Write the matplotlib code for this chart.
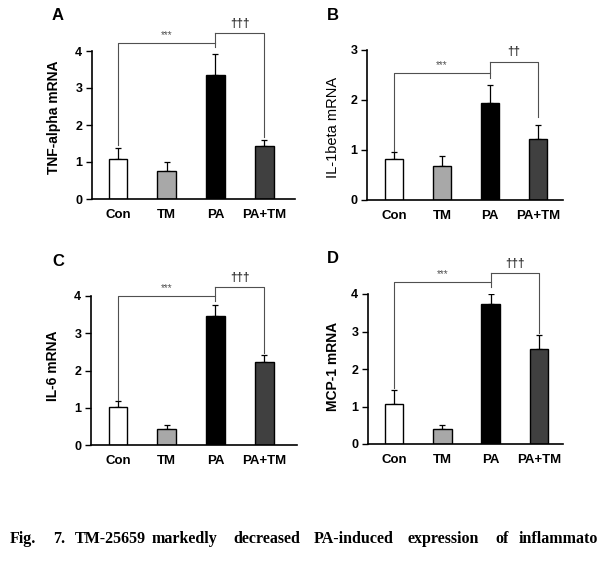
import matplotlib.pyplot as plt

plt.rcParams['font.family'] = ['Liberation Sans', 'DejaVu Sans']

groups = ["Con", "TM", "PA", "PA+TM"]
bar_colors = ["white", "#a8a8a8", "black", "#404040"]

# mean and SEM per panel
tnf_mean = [1.07, 0.77, 3.35, 1.42]
tnf_err = [0.30, 0.22, 0.57, 0.18]
il1b_mean = [0.82, 0.68, 1.95, 1.23]
il1b_err = [0.14, 0.21, 0.35, 0.28]
il6_mean = [1.03, 0.44, 3.47, 2.24]
il6_err = [0.14, 0.10, 0.30, 0.17]
mcp1_mean = [1.06, 0.40, 3.74, 2.54]
mcp1_err = [0.38, 0.12, 0.26, 0.37]

W, H = 597, 576


def px_axes(fig, left, right, y0, ytop):
    """Axes box from pixel coords (origin top-left)."""
    return fig.add_axes([left / W, 1 - y0 / H, (right - left) / W, (y0 - ytop) / H])


def draw_panel(ax, means, errs, ymax, xlim, brackets, n_dag):
    x = range(len(groups))
    ax.bar(x, means, width=0.38, color=bar_colors, edgecolor="black", linewidth=1.0, zorder=2)
    ax.errorbar(x, means, yerr=[[0] * len(errs), errs], fmt="none", ecolor="black",
                elinewidth=0.9, capsize=2.5, capthick=0.9, zorder=1)
    ax.set_xlim(*xlim)
    ax.set_ylim(0, ymax)
    ax.set_yticks(range(ymax + 1))
    ax.set_xticks(list(x))
    ax.set_xticklabels(groups, fontsize=9.5, fontweight="bold")
    ax.tick_params(axis="x", length=0, pad=7)
    ax.tick_params(axis="y", length=4, width=1, direction="out", labelsize=9, pad=3)
    for lab in ax.get_yticklabels():
        lab.set_fontweight("bold")
    for s in ("top", "right"):
        ax.spines[s].set_visible(False)
    for s in ("left", "bottom"):
        ax.spines[s].set_linewidth(1.2)

    star_y, con_drop, dag_y, pa_low, patm_drop = brackets
    kw = dict(color="#505050", lw=0.8, clip_on=False)
    # Con vs PA
    ax.plot([0, 0, 2], [con_drop, star_y, star_y], **kw)
    ax.plot([2, 2], [dag_y, pa_low], **kw)
    # PA vs PA+TM
    ax.plot([2, 3, 3], [dag_y, dag_y, patm_drop], **kw)
    off = ymax * 0.02
    ax.text(1.0, star_y + off, "***", ha="center", va="bottom", fontsize=7,
            color="#505050", clip_on=False)
    ax.text(2.5, dag_y + off, "\u2020" * n_dag, ha="center", va="bottom", fontsize=8.5,
            color="#303030", fontweight="bold", clip_on=False)


fig = plt.figure(figsize=(W / 100, H / 100), dpi=100)

axA = px_axes(fig, 92, 295, 199, 51)
axB = px_axes(fig, 367, 563, 200, 50)
axC = px_axes(fig, 91, 297, 445, 296)
axD = px_axes(fig, 368, 563, 444, 294)

draw_panel(axA, tnf_mean, tnf_err, 4, (-0.53, 3.63), (4.22, 1.45, 4.50, 4.12, 1.68), 3)
draw_panel(axB, il1b_mean, il1b_err, 3, (-0.56, 3.52), (2.54, 0.98, 2.77, 2.43, 1.66), 2)
draw_panel(axC, il6_mean, il6_err, 4, (-0.55, 3.67), (4.00, 1.21, 4.25, 3.87, 2.46), 3)
draw_panel(axD, mcp1_mean, mcp1_err, 4, (-0.54, 3.50), (4.32, 1.50, 4.56, 4.20, 2.95), 3)

# y labels
fig.text(54 / W, 1 - 117 / H, "TNF-alpha mRNA", rotation=90, ha="center", va="center",
         fontsize=10, fontweight="bold")
fig.text(333 / W, 1 - 127 / H, "IL-1beta mRNA", rotation=90, ha="center", va="center",
         fontsize=10.5)
fig.text(53 / W, 1 - 366 / H, "IL-6 mRNA", rotation=90, ha="center", va="center",
         fontsize=10, fontweight="bold")
fig.text(333 / W, 1 - 366 / H, "MCP-1 mRNA", rotation=90, ha="center", va="center",
         fontsize=10, fontweight="bold")

# panel letters
for letter, px, py in [("A", 52, 15), ("B", 327, 15), ("C", 52, 262), ("D", 327, 258)]:
    fig.text(px / W, 1 - py / H, letter, ha="left", va="center", fontsize=12, fontweight="bold")

# caption (justified, runs to the right edge)
caption_words = ["Fig.", "7.", "TM-25659", "markedly", "decreased", "PA-induced",
                 "expression", "of", "inflammato"]
caption_x = [10, 53, 75, 152, 233, 314, 407, 495, 519]
for word, cx in zip(caption_words, caption_x):
    fig.text(cx / W, 1 - 543 / H, word, ha="left", va="baseline", fontsize=11.5,
             fontweight="bold", family="Liberation Serif")

fig.savefig("out.png", dpi=100)
